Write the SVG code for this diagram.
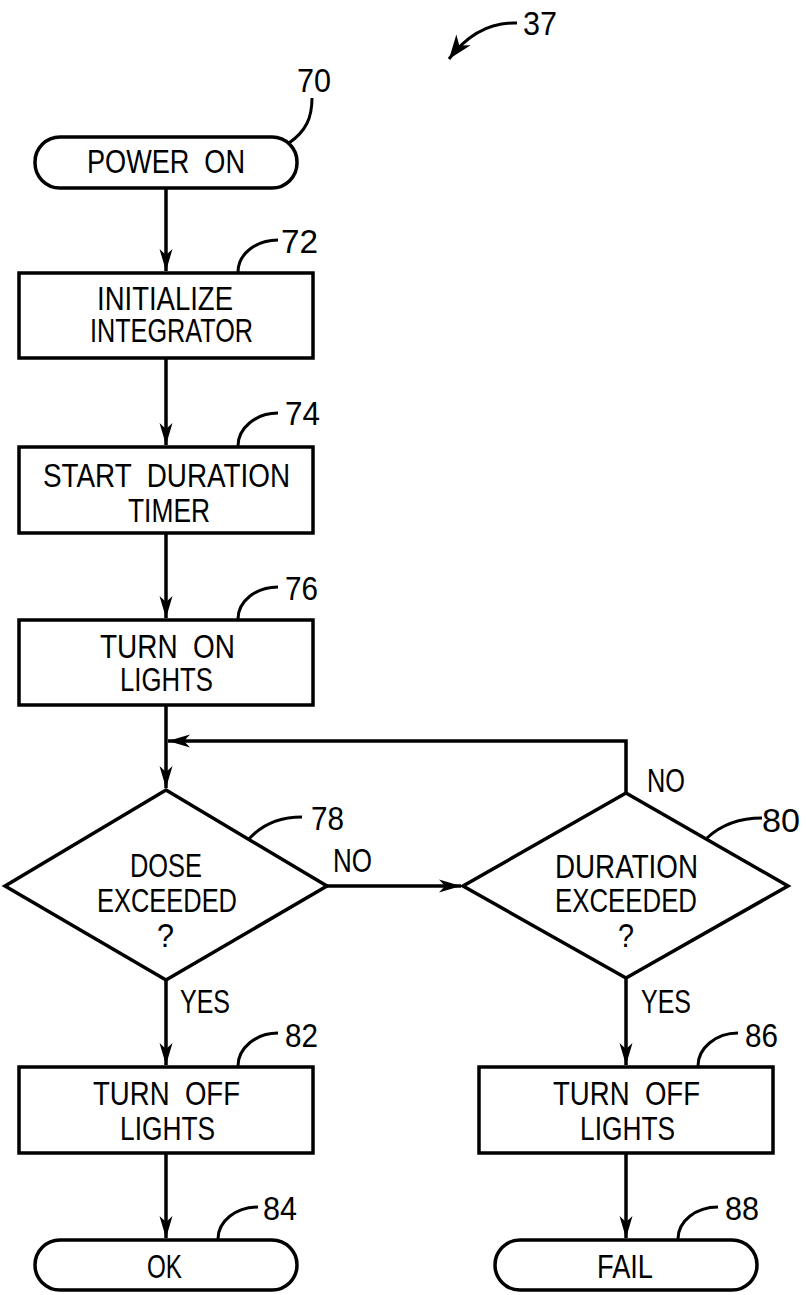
<svg xmlns="http://www.w3.org/2000/svg" width="806" height="1295" viewBox="0 0 806 1295">
<style>
.shape{fill:#fff;stroke:#000;stroke-width:3.5;stroke-linejoin:miter}
.conn{fill:none;stroke:#000;stroke-width:3.5}
.lead{fill:none;stroke:#000;stroke-width:3}
.t{font-family:"Liberation Sans",Arial,sans-serif;font-size:34px;fill:#000}
.n{font-family:"Liberation Sans",Arial,sans-serif;font-size:34px;fill:#000}
</style>
<defs>
<marker id="ah" viewBox="-24 -8 26 16" refX="0" refY="0" markerWidth="26" markerHeight="16" markerUnits="userSpaceOnUse" orient="auto">
<path d="M0,0 L-22,-6.5 L-16,0 L-22,6.5 Z" fill="#000"/>
</marker>
<marker id="ah2" viewBox="-26 -10 28 20" refX="0" refY="0" markerWidth="28" markerHeight="20" markerUnits="userSpaceOnUse" orient="auto">
<path d="M0,0 L-24,-9 L-17,0 L-24,9 Z" fill="#000"/>
</marker>
</defs>
<rect width="806" height="1295" fill="#fff"/>

<g id="ref37">
<path class="lead" d="M517,23 C490,22 468,34 449,59" marker-end="url(#ah2)"/>
<text class="n" x="523" y="35" textLength="34" lengthAdjust="spacingAndGlyphs">37</text>
</g>

<g id="connectors">
<path class="conn" d="M166,188 V271" marker-end="url(#ah)"/>
<path class="conn" d="M166,358 V445" marker-end="url(#ah)"/>
<path class="conn" d="M166,533 V618" marker-end="url(#ah)"/>
<path class="conn" d="M166,705 V788" marker-end="url(#ah)"/>
<path class="conn" d="M626,793 V741 H168" marker-end="url(#ah)"/>
<path class="conn" d="M327,886 H461" marker-end="url(#ah)"/>
<path class="conn" d="M166,980 V1065" marker-end="url(#ah)"/>
<path class="conn" d="M166,1153 V1238" marker-end="url(#ah)"/>
<path class="conn" d="M626,978 V1065" marker-end="url(#ah)"/>
<path class="conn" d="M626,1153 V1238" marker-end="url(#ah)"/>
<text class="t" x="333" y="872" textLength="39" lengthAdjust="spacingAndGlyphs">NO</text>
<text class="t" x="647" y="792" textLength="38" lengthAdjust="spacingAndGlyphs">NO</text>
<text class="t" x="180" y="1013" textLength="50" lengthAdjust="spacingAndGlyphs">YES</text>
<text class="t" x="641" y="1013" textLength="50" lengthAdjust="spacingAndGlyphs">YES</text>
</g>

<g id="n70">
<rect class="shape" x="35" y="137" width="262" height="51" rx="25" ry="25"/>
<text class="t" x="87" y="173" textLength="158" lengthAdjust="spacingAndGlyphs" xml:space="preserve">POWER  ON</text>
<path class="lead" d="M289,143 C306,131 312,118 312,98"/>
<text class="n" x="297" y="92" textLength="34" lengthAdjust="spacingAndGlyphs">70</text>
</g>

<g id="n72">
<rect class="shape" x="19" y="273" width="294" height="85"/>
<text class="t" x="97" y="310" textLength="136" lengthAdjust="spacingAndGlyphs">INITIALIZE</text>
<text class="t" x="90" y="342" textLength="163" lengthAdjust="spacingAndGlyphs">INTEGRATOR</text>
<path class="lead" d="M238,272 C238,254 256,240 278,240"/>
<text class="n" x="281" y="253" textLength="37" lengthAdjust="spacingAndGlyphs">72</text>
</g>

<g id="n74">
<rect class="shape" x="19" y="447" width="294" height="86"/>
<text class="t" x="43" y="487" textLength="247" lengthAdjust="spacingAndGlyphs" xml:space="preserve">START  DURATION</text>
<text class="t" x="128" y="522" textLength="82" lengthAdjust="spacingAndGlyphs">TIMER</text>
<path class="lead" d="M238,446 C238,428 256,413 278,413"/>
<text class="n" x="285" y="425" textLength="35" lengthAdjust="spacingAndGlyphs">74</text>
</g>

<g id="n76">
<rect class="shape" x="19" y="620" width="294" height="85"/>
<text class="t" x="100" y="658" textLength="135" lengthAdjust="spacingAndGlyphs" xml:space="preserve">TURN  ON</text>
<text class="t" x="120" y="691" textLength="93" lengthAdjust="spacingAndGlyphs">LIGHTS</text>
<path class="lead" d="M238,619 C238,601 256,587 278,587"/>
<text class="n" x="285" y="600" textLength="33" lengthAdjust="spacingAndGlyphs">76</text>
</g>

<g id="n78">
<polygon class="shape" points="166,790 327,886 166,980 5,886"/>
<text class="t" x="130" y="877" textLength="72" lengthAdjust="spacingAndGlyphs">DOSE</text>
<text class="t" x="97" y="912" textLength="140" lengthAdjust="spacingAndGlyphs">EXCEEDED</text>
<text class="t" x="157" y="947" textLength="17" lengthAdjust="spacingAndGlyphs">?</text>
<path class="lead" d="M248,840 C262,824 280,817 302,817"/>
<text class="n" x="311" y="830" textLength="33" lengthAdjust="spacingAndGlyphs">78</text>
</g>

<g id="n80">
<polygon class="shape" points="626,793 788,886 626,978 463,886"/>
<text class="t" x="555" y="878" textLength="143" lengthAdjust="spacingAndGlyphs">DURATION</text>
<text class="t" x="555" y="912" textLength="142" lengthAdjust="spacingAndGlyphs">EXCEEDED</text>
<text class="t" x="618" y="947" textLength="16" lengthAdjust="spacingAndGlyphs">?</text>
<path class="lead" d="M707,838 C722,824 740,818 762,818"/>
<text class="n" x="762" y="832" textLength="38" lengthAdjust="spacingAndGlyphs">80</text>
</g>

<g id="n82">
<rect class="shape" x="19" y="1067" width="294" height="86"/>
<text class="t" x="93" y="1105" textLength="147" lengthAdjust="spacingAndGlyphs" xml:space="preserve">TURN  OFF</text>
<text class="t" x="120" y="1140" textLength="95" lengthAdjust="spacingAndGlyphs">LIGHTS</text>
<path class="lead" d="M238,1066 C238,1048 256,1033 278,1033"/>
<text class="n" x="285" y="1047" textLength="33" lengthAdjust="spacingAndGlyphs">82</text>
</g>

<g id="n84">
<rect class="shape" x="35" y="1240" width="262" height="50" rx="25" ry="25"/>
<text class="t" x="147" y="1278" textLength="35" lengthAdjust="spacingAndGlyphs">OK</text>
<path class="lead" d="M218,1239 C218,1221 236,1207 258,1207"/>
<text class="n" x="263" y="1220" textLength="34" lengthAdjust="spacingAndGlyphs">84</text>
</g>

<g id="n86">
<rect class="shape" x="479" y="1067" width="294" height="86"/>
<text class="t" x="553" y="1105" textLength="147" lengthAdjust="spacingAndGlyphs" xml:space="preserve">TURN  OFF</text>
<text class="t" x="580" y="1140" textLength="95" lengthAdjust="spacingAndGlyphs">LIGHTS</text>
<path class="lead" d="M698,1066 C698,1048 716,1033 738,1033"/>
<text class="n" x="745" y="1047" textLength="33" lengthAdjust="spacingAndGlyphs">86</text>
</g>

<g id="n88">
<rect class="shape" x="495" y="1240" width="262" height="50" rx="25" ry="25"/>
<text class="t" x="597" y="1278" textLength="56" lengthAdjust="spacingAndGlyphs">FAIL</text>
<path class="lead" d="M678,1239 C678,1221 696,1207 718,1207"/>
<text class="n" x="725" y="1220" textLength="34" lengthAdjust="spacingAndGlyphs">88</text>
</g>
</svg>
